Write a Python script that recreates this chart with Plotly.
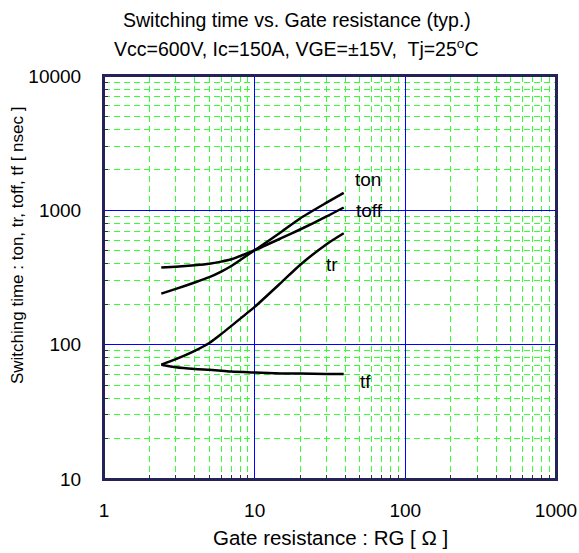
import math
import plotly.graph_objects as go

rg = [2.4, 3, 4, 5, 6, 7, 10, 15, 20, 30, 39]
ton = [240, 260, 290, 318, 350, 385, 505, 690, 870, 1140, 1350]
toff = [375, 381, 390, 400, 415, 432, 505, 620, 720, 900, 1050]
tr = [71, 78, 90, 103, 120, 138, 191, 290, 392, 560, 675]
tf = [71, 68, 66, 65, 64, 63, 62, 61, 61, 60.5, 60.5]

series = [("ton", ton), ("toff", toff), ("tr", tr), ("tf", tf)]
labels = [("ton", 56.5, 1710), ("toff", 58, 990), ("tr", 32.6, 392), ("tf", 54, 53.6)]

x_ticks = [1, 10, 100, 1000]
y_ticks = [10, 100, 1000, 10000]
x_minor = [m * 10 ** e for e in range(0, 3) for m in range(2, 10)]
y_minor = [m * 10 ** e for e in range(1, 4) for m in range(2, 10)]

font = "Liberation Sans, Arial, sans-serif"
fs = 19

fig = go.Figure()
for name, vals in series:
    fig.add_trace(go.Scatter(x=rg, y=vals, mode="lines", name=name,
                             line=dict(color="black", width=2.5, shape="spline", smoothing=0.6),
                             showlegend=False, hoverinfo="skip"))

for txt, lx, ly in labels:
    fig.add_annotation(x=math.log10(lx), y=math.log10(ly),
                       text=txt, showarrow=False, xanchor="center", yanchor="middle",
                       font=dict(family=font, size=fs, color="black"))

axis_common = dict(
    type="log", automargin=False,
    showline=True, linecolor="#23235a", linewidth=2, mirror=True,
    showgrid=True, gridcolor="#0000ff", gridwidth=1.2,
    ticks="", tickcolor="black",
    tickfont=dict(family=font, size=fs, color="black"),
    zeroline=False, showspikes=False,
)

fig.update_xaxes(**axis_common, range=[0, 3], tickvals=x_ticks,
                 ticktext=[str(v) for v in x_ticks], ticklabelstandoff=13,
                 minor=dict(tickvals=x_minor, showgrid=True, gridcolor="#33ff33",
                            griddash="6px,4px", gridwidth=1, ticks="inside",
                            ticklen=4, tickcolor="#333333"))
fig.update_yaxes(**axis_common, range=[1, 4], tickvals=y_ticks,
                 ticktext=[str(v) for v in y_ticks], ticklabelstandoff=17,
                 minor=dict(tickvals=y_minor, showgrid=True, gridcolor="#33ff33",
                            griddash="6px,4px", gridwidth=1, ticks="inside",
                            ticklen=4, tickcolor="#333333"))

# plot frame
fig.add_shape(type="rect", xref="paper", yref="paper", x0=0, y0=0, x1=1, y1=1,
              line=dict(color="#23235a", width=2), layer="above")

# titles
fig.add_annotation(xref="paper", yref="paper", x=0.428, y=1.139,
                   text="Switching time vs. Gate resistance (typ.)", showarrow=False,
                   xanchor="center", yanchor="middle",
                   font=dict(family=font, size=19.5, color="black"))
fig.add_annotation(xref="paper", yref="paper", x=0.426, y=1.0695,
                   text="Vcc=600V, Ic=150A, VGE=±15V,  Tj=25<sup>o</sup>C", showarrow=False,
                   xanchor="center", yanchor="middle",
                   font=dict(family=font, size=19.5, color="black"))
fig.add_annotation(xref="paper", yref="paper", x=0.502, y=-0.146,
                   text="Gate resistance : RG [ Ω ]", showarrow=False,
                   xanchor="center", yanchor="middle",
                   font=dict(family=font, size=20.5, color="black"))
fig.add_annotation(xref="paper", yref="paper", x=-0.193, y=0.58,
                   text="Switching time : ton, tr, toff, tf [ nsec ]", showarrow=False,
                   textangle=-90, xanchor="center", yanchor="middle",
                   font=dict(family=font, size=17, color="black"))

fig.update_layout(
    width=579, height=553,
    margin=dict(l=103.5, r=23, t=76, b=74),
    paper_bgcolor="white", plot_bgcolor="white",
    hovermode=False,
)

fig.write_html("out.html", config={"displayModeBar": False, "staticPlot": True},
               post_script="document.body.style.margin='0';document.body.style.overflow='hidden';")
